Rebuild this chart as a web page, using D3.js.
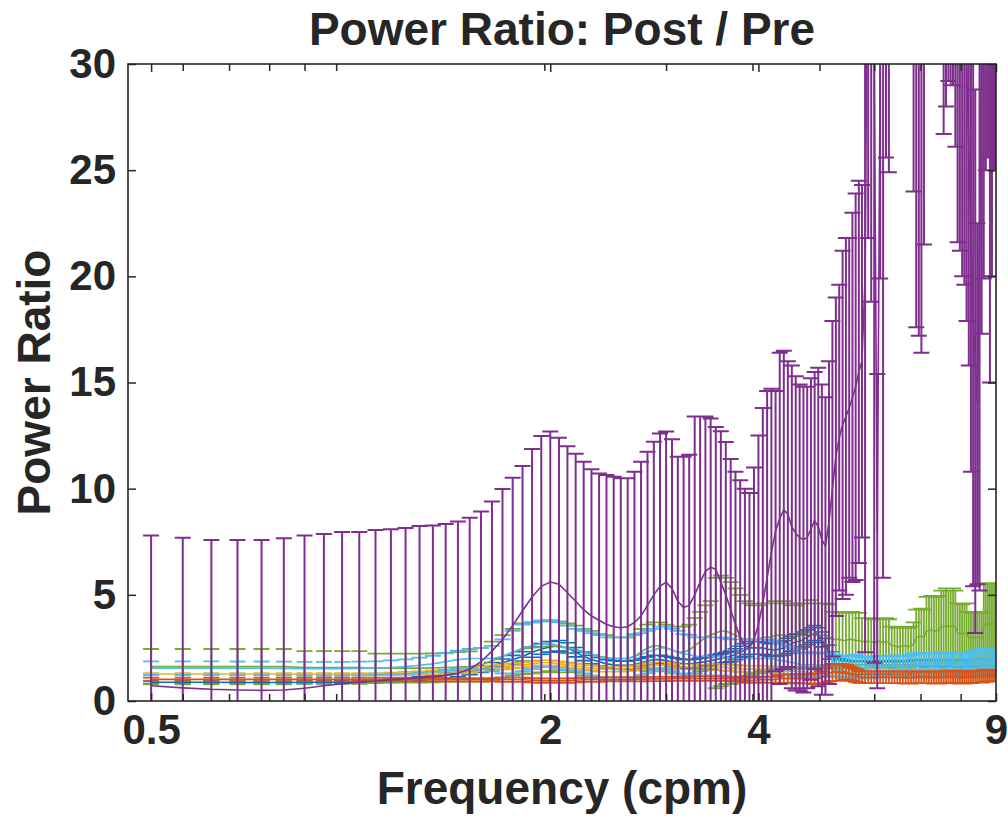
<!DOCTYPE html>
<html><head><meta charset="utf-8">
<script src="https://cdn.jsdelivr.net/npm/d3@7"></script>
<style>
body{margin:0;background:#fff}
svg{display:block}
text{font-family:"Liberation Sans",Arial,Helvetica,sans-serif;font-weight:bold;fill:#262626}
</style>
</head><body>
<svg id="c" width="1008" height="830"></svg>
<script>
// ---------------- data ----------------
const freqs=[0.54,0.6,0.66,0.72,0.78,0.84,0.9,0.96,1.02,1.08,
1.14,1.2,1.26,1.32,1.38,1.44,1.5,1.56,1.62,1.68,
1.74,1.8,1.86,1.92,1.98,2.04,2.1,2.16,2.22,2.28,
2.34,2.4,2.46,2.52,2.58,2.64,2.7,2.76,2.82,2.88,
2.94,3,3.06,3.12,3.18,3.24,3.3,3.36,3.42,3.48,
3.54,3.6,3.66,3.72,3.78,3.84,3.9,3.96,4.02,4.08,
4.14,4.2,4.26,4.32,4.38,4.44,4.5,4.56,4.62,4.68,
4.74,4.8,4.86,4.92,4.98,5.04,5.1,5.16,5.22,5.28,
5.34,5.4,5.46,5.52,5.58,5.64,5.7,5.76,5.82,5.88,
5.94,6,6.06,6.12,6.18,6.24,6.3,6.36,6.42,6.48,
6.54,6.6,6.66,6.72,6.78,6.84,6.9,6.96,7.02,7.08,
7.14,7.2,7.26,7.32,7.38,7.44,7.5,7.56,7.62,7.68,
7.74,7.8,7.86,7.92,7.98,8.04,8.1,8.16,8.22,8.28,
8.34,8.4,8.46,8.52,8.58,8.64,8.7,8.76,8.82,8.88,
8.94,9];

const purpleMean=[0.72,0.62,0.55,0.52,0.5,0.52,0.6,0.72,0.82,0.88,
0.94,1.0,1.05,1.1,1.15,1.22,1.32,1.5,1.85,2.35,
2.9,3.55,4.25,4.9,5.4,5.6,5.5,5.1,4.7,4.3,
4.0,3.8,3.6,3.5,3.45,3.5,3.7,4.0,4.5,5.0,
5.4,5.6,5.3,4.7,4.4,4.5,5.0,5.6,6.1,6.3,
6.2,5.6,5.0,4.3,3.6,3.0,2.6,2.5,2.9,3.6,
4.6,5.8,7.0,8.0,8.6,9.0,8.8,8.2,7.9,7.7,
7.6,7.7,8.1,8.5,8.2,7.6,7.3,8.4,10.0,11.5,
12.4,13.0,13.4,13.8,14.3,14.8,15.5,16.0,20,40,
35,30,8,30,32,40,40,45,50,52,
55,55,52,50,48,40,35,33,32,36,
45,50,52,55,55,52,48,42,44,45,
44,45,40,38,36,33,32,30,26,22,
18,16,14,22,30,34,38,40,36,40,
45,45];
const purpleErr=[7.07,7.07,7.03,7.06,7.08,7.14,7.19,7.15,7.14,7.08,
7.11,7.09,7.1,7.14,7.11,7.12,7.13,7.13,7.07,7.04,
7.09,6.97,6.82,6.97,7.08,7.09,6.9,6.9,6.95,6.97,
6.91,6.92,7.04,7.06,7.04,6.99,7.1,7.27,7.24,7.21,
7.2,7.09,7.03,6.8,7.1,7.1,8.4,7.8,7.3,7.0,
6.7,7.1,7.2,7.1,7.2,7.4,7.4,7.3,8.1,8.9,
9.2,8.8,7.7,6.6,7.8,7.5,7.2,7.6,7.4,7.2,
7.2,7.1,7.1,7.0,7.5,7.3,7.0,7.6,7.9,7.5,
7.2,8.2,8.4,8.0,8.7,9.1,9.0,8.3,17.7,18.2,
16.2,28.2,7.4,10.1,26.2,14.4,15.1,12,10,10,
10,10,10,10,10,16,17.4,15.8,15.6,14.5,
12,10,10,10,10,10,10,15.3,16,15.8,
15,16,13.9,16.4,14.8,13,12.4,12.1,10.2,11.2,
12.6,12.8,8.5,16.8,12.7,14.1,13,14.4,21,20,
20,20];

const greenMean=[1.62,1.62,1.62,1.62,1.62,1.62,1.58,1.58,1.58,1.58,
1.55,1.55,1.55,1.55,1.56,1.58,1.6,1.62,1.7,1.9,
2.1,2.3,2.45,2.5,2.55,2.6,2.55,2.5,2.45,2.3,
2.2,2.1,2.05,2.0,2.0,2.0,2.1,2.3,2.5,2.6,
2.6,2.5,2.4,2.3,2.3,2.4,2.6,2.8,3.0,3.1,
3.2,3.3,3.3,3.2,3.1,3.0,2.9,2.9,2.9,2.9,
3.0,3.0,3.0,3.1,3.1,3.1,3.1,3.0,3.0,3.1,
3.1,3.1,3.15,3.1,3.1,3.1,3.1,3.05,2.9,2.9,
2.9,2.85,2.85,2.9,2.9,2.85,2.85,2.8,2.8,2.8,
2.8,2.75,2.8,2.8,2.75,2.8,2.75,2.6,2.6,2.55,
2.55,2.6,2.6,2.55,2.6,2.7,3.0,3.0,3.05,3.0,
3.3,3.3,3.35,3.3,3.3,3.35,3.5,3.5,3.55,3.5,
3.5,3.55,3.5,3.2,3.2,3.15,3.2,3.2,3.0,3.0,
2.95,3.0,3.0,3.0,2.95,3.6,3.6,3.65,3.6,3.6,
3.65,3.6];
const greenErr=[0.83,0.83,0.83,0.83,0.83,0.83,0.77,0.77,0.77,0.77,
0.68,0.68,0.68,0.68,0.68,0.68,0.7,0.72,0.8,0.9,
1.0,1.1,1.2,1.2,1.2,1.2,1.2,1.15,1.1,1.1,
1.1,1.05,1.05,1.0,1.0,1.0,1.05,1.1,1.1,1.1,
1.1,1.1,1.1,1.2,1.2,1.2,1.3,1.4,1.5,1.6,
2.6,2.6,2.5,2.4,2.2,2.0,1.8,1.7,1.6,1.6,
1.6,1.6,1.6,1.6,1.6,1.6,1.5,1.5,1.5,1.5,
1.5,1.5,1.6,1.5,1.5,1.5,1.5,1.5,1.3,1.3,
1.3,1.3,1.3,1.3,1.3,1.3,1.3,1.1,1.1,1.1,
1.1,1.1,1.1,1.1,1.1,1.1,1.1,0.9,0.9,0.9,
0.9,0.9,0.9,0.9,0.9,1.0,1.3,1.3,1.3,1.3,
1.6,1.6,1.6,1.6,1.6,1.6,1.7,1.7,1.75,1.7,
1.7,1.75,1.7,1.4,1.4,1.4,1.4,1.4,1.2,1.2,
1.2,1.2,1.2,1.2,1.2,1.9,1.9,1.9,1.9,1.9,
1.9,1.9];

const cyanMean=[1.55,1.55,1.55,1.54,1.54,1.53,1.52,1.52,1.52,1.53,
1.55,1.58,1.62,1.68,1.75,1.85,1.95,2.0,2.0,2.0,
2.1,2.3,2.5,2.6,2.7,2.7,2.6,2.5,2.4,2.3,
2.2,2.1,2.0,2.0,2.0,2.0,2.1,2.2,2.3,2.4,
2.5,2.5,2.4,2.3,2.2,2.2,2.1,2.1,2.1,2.1,
2.1,2.1,2.05,2.0,2.0,2.0,2.0,2.0,2.0,2.0,
2.0,2.0,2.0,1.95,1.9,1.9,1.85,1.8,1.8,1.7,
1.7,1.7,1.72,1.7,1.68,1.7,1.72,1.7,1.65,1.65,
1.62,1.6,1.6,1.62,1.65,1.65,1.6,1.55,1.55,1.58,
1.6,1.6,1.62,1.62,1.6,1.6,1.62,1.65,1.65,1.62,
1.62,1.6,1.6,1.62,1.65,1.68,1.7,1.7,1.72,1.7,
1.7,1.72,1.72,1.7,1.7,1.72,1.75,1.75,1.72,1.72,
1.7,1.7,1.72,1.75,1.75,1.72,1.7,1.7,1.72,1.75,
1.78,1.8,1.8,1.8,1.82,1.85,1.85,1.82,1.8,1.8,
1.8,1.8];
const cyanErr=[0.32,0.32,0.32,0.32,0.32,0.32,0.32,0.32,0.32,0.32,
0.32,0.33,0.34,0.36,0.38,0.4,0.42,0.45,0.5,0.6,
0.8,1.0,1.1,1.1,1.1,1.1,1.1,1.05,1.0,1.0,
1.0,1.0,1.0,1.0,1.0,1.0,1.0,1.0,1.0,1.0,
1.0,1.0,1.0,1.0,0.95,0.9,0.9,0.9,0.9,0.9,
0.9,0.9,0.9,0.9,0.9,0.9,0.9,0.9,0.9,0.9,
0.9,0.9,0.85,0.85,0.8,0.8,0.75,0.7,0.65,0.6,
0.55,0.55,0.58,0.56,0.55,0.55,0.56,0.55,0.52,0.52,
0.5,0.5,0.52,0.5,0.5,0.52,0.5,0.5,0.48,0.5,
0.5,0.5,0.48,0.5,0.5,0.5,0.5,0.5,0.5,0.5,
0.5,0.5,0.5,0.52,0.52,0.55,0.55,0.55,0.55,0.55,
0.55,0.55,0.55,0.55,0.55,0.55,0.55,0.55,0.55,0.55,
0.55,0.55,0.55,0.55,0.55,0.55,0.55,0.55,0.55,0.55,
0.55,0.55,0.58,0.6,0.6,0.62,0.62,0.6,0.6,0.6,
0.6,0.6];

const orangeMean=[1.02,1.02,1.02,1.02,1.02,1.02,1.02,1.02,1.02,1.02,
1.02,1.02,1.02,1.01,1.0,1.0,1.0,1.0,1.0,1.0,
1.0,1.0,1.0,0.98,0.96,0.95,0.95,0.96,0.98,1.0,
1.0,1.0,1.02,1.02,1.02,1.02,1.02,1.02,1.04,1.04,
1.04,1.04,1.05,1.05,1.05,1.05,1.05,1.05,1.05,1.05,
1.05,1.05,1.05,1.05,1.05,1.05,1.0,0.98,0.98,1.0,
1.0,1.0,1.0,1.0,1.05,1.05,1.05,1.05,1.05,1.05,
1.05,1.05,1.05,1.05,1.05,1.1,1.2,1.3,1.35,1.35,
1.35,1.35,1.35,1.3,1.25,1.2,1.15,1.12,1.12,1.12,
1.12,1.12,1.12,1.12,1.12,1.12,1.12,1.12,1.12,1.12,
1.12,1.12,1.1,1.1,1.1,1.12,1.12,1.12,1.12,1.12,
1.12,1.12,1.12,1.1,1.1,1.1,1.12,1.12,1.12,1.15,
1.15,1.15,1.15,1.12,1.1,1.1,1.1,1.12,1.12,1.12,
1.15,1.15,1.15,1.15,1.15,1.18,1.18,1.2,1.2,1.2,
1.2,1.2];
const orangeErr=[0.08,0.08,0.08,0.08,0.08,0.08,0.08,0.08,0.08,0.08,
0.08,0.08,0.08,0.08,0.08,0.08,0.08,0.08,0.08,0.08,
0.1,0.1,0.1,0.1,0.1,0.1,0.1,0.1,0.1,0.1,
0.1,0.1,0.1,0.1,0.1,0.1,0.1,0.1,0.1,0.1,
0.1,0.1,0.1,0.1,0.1,0.1,0.1,0.1,0.1,0.1,
0.1,0.1,0.1,0.1,0.1,0.1,0.12,0.12,0.12,0.12,
0.15,0.15,0.15,0.15,0.18,0.18,0.2,0.2,0.22,0.22,
0.22,0.22,0.22,0.25,0.25,0.3,0.35,0.38,0.4,0.4,
0.4,0.38,0.35,0.32,0.3,0.3,0.28,0.28,0.28,0.28,
0.28,0.28,0.28,0.28,0.28,0.28,0.28,0.28,0.28,0.28,
0.28,0.28,0.28,0.28,0.28,0.28,0.28,0.28,0.28,0.28,
0.28,0.28,0.28,0.28,0.28,0.28,0.28,0.28,0.28,0.28,
0.28,0.28,0.28,0.28,0.28,0.28,0.28,0.28,0.28,0.28,
0.28,0.28,0.28,0.28,0.28,0.28,0.28,0.28,0.28,0.28,
0.28,0.28];

const blueMean=[0.88,0.88,0.88,0.87,0.87,0.87,0.88,0.88,0.89,0.9,
0.92,0.95,1.0,1.05,1.12,1.2,1.28,1.38,1.5,1.65,
1.8,1.95,2.1,2.3,2.45,2.55,2.6,2.5,2.3,2.1,
1.95,1.85,1.75,1.7,1.68,1.68,1.72,1.8,1.88,1.95,
1.95,1.9,1.85,1.8,1.75,1.75,1.78,1.82,1.85,1.9,
1.95,2.0,2.05,2.1,2.2,2.3,2.4,2.5,2.5,2.5,
2.5,2.45,2.4,2.4,2.45,2.5,2.6,2.7,2.8,2.8,
2.9,3.0,3.1,3.2,3.1,2.9,2.6,2.3,2.0,1.8,
1.7,1.65,1.6,1.6,1.58,1.55,1.55,1.55,1.58,1.6,
1.6,1.6,1.58,1.55,1.55,1.55,1.58,1.6,1.6,1.6,
1.58,1.55,1.55,1.58,1.6,1.62,1.65,1.65,1.62,1.6,
1.6,1.62,1.65,1.65,1.65,1.62,1.6,1.6,1.62,1.65,
1.65,1.65,1.62,1.6,1.6,1.6,1.62,1.65,1.65,1.62,
1.6,1.6,1.62,1.65,1.68,1.7,1.7,1.7,1.68,1.65,
1.65,1.65];
const blueErr=[0.06,0.06,0.06,0.06,0.06,0.06,0.06,0.06,0.06,0.06,
0.07,0.08,0.09,0.1,0.11,0.12,0.13,0.14,0.15,0.16,
0.18,0.2,0.22,0.24,0.25,0.25,0.25,0.24,0.22,0.2,
0.2,0.2,0.2,0.2,0.2,0.2,0.2,0.2,0.2,0.2,
0.2,0.2,0.2,0.2,0.2,0.2,0.2,0.2,0.2,0.2,
0.22,0.22,0.24,0.25,0.26,0.28,0.3,0.3,0.3,0.3,
0.3,0.3,0.3,0.3,0.32,0.34,0.35,0.35,0.35,0.35,
0.35,0.35,0.35,0.35,0.35,0.35,0.35,0.33,0.32,0.3,
0.3,0.3,0.3,0.3,0.3,0.3,0.3,0.3,0.3,0.3,
0.3,0.3,0.3,0.3,0.3,0.3,0.3,0.3,0.3,0.3,
0.3,0.3,0.3,0.3,0.3,0.3,0.3,0.3,0.3,0.3,
0.3,0.3,0.3,0.3,0.3,0.3,0.3,0.3,0.3,0.3,
0.3,0.3,0.3,0.3,0.3,0.3,0.3,0.3,0.3,0.3,
0.3,0.3,0.3,0.3,0.3,0.3,0.3,0.3,0.3,0.3,
0.3,0.3];

const yellowMean=[1.27,1.27,1.27,1.27,1.27,1.27,1.27,1.27,1.27,1.27,
1.27,1.28,1.3,1.32,1.35,1.38,1.4,1.45,1.5,1.55,
1.6,1.65,1.7,1.75,1.8,1.8,1.75,1.7,1.65,1.6,
1.55,1.5,1.5,1.5,1.5,1.52,1.55,1.6,1.65,1.7,
1.7,1.7,1.65,1.6,1.6,1.6,1.6,1.6,1.6,1.6,
1.6,1.6,1.58,1.55,1.55,1.52,1.5,1.5,1.5,1.5,
1.5,1.5,1.48,1.45,1.45,1.42,1.4,1.4,1.4,1.38,
1.38,1.36,1.35,1.35,1.35,1.35,1.35,1.35,1.35,1.35,
1.35,1.35,1.34,1.34,1.33,1.33,1.32,1.32,1.32,1.32,
1.32,1.32,1.32,1.32,1.32,1.32,1.32,1.32,1.32,1.32,
1.3,1.3,1.3,1.3,1.3,1.3,1.3,1.3,1.3,1.3,
1.3,1.3,1.3,1.3,1.3,1.3,1.3,1.3,1.3,1.3,
1.3,1.3,1.3,1.3,1.3,1.3,1.3,1.3,1.3,1.3,
1.3,1.3,1.3,1.3,1.3,1.3,1.3,1.3,1.3,1.3,
1.3,1.3];
const yellowErr=[0.05,0.05,0.05,0.05,0.05,0.05,0.05,0.05,0.05,0.05,
0.05,0.06,0.07,0.08,0.09,0.1,0.1,0.1,0.11,0.12,
0.12,0.12,0.12,0.12,0.12,0.12,0.12,0.12,0.12,0.12,
0.12,0.12,0.12,0.12,0.12,0.12,0.12,0.12,0.12,0.12,
0.12,0.12,0.12,0.12,0.12,0.12,0.12,0.12,0.12,0.12,
0.15,0.15,0.15,0.15,0.15,0.15,0.15,0.15,0.15,0.15,
0.15,0.15,0.15,0.15,0.15,0.15,0.15,0.15,0.15,0.15,
0.15,0.15,0.15,0.15,0.15,0.15,0.15,0.15,0.15,0.15,
0.2,0.2,0.2,0.2,0.2,0.2,0.2,0.2,0.2,0.2,
0.2,0.2,0.2,0.2,0.2,0.2,0.2,0.2,0.2,0.2,
0.2,0.2,0.2,0.2,0.2,0.2,0.2,0.2,0.2,0.2,
0.2,0.2,0.2,0.2,0.2,0.2,0.2,0.2,0.2,0.2,
0.2,0.2,0.2,0.2,0.2,0.2,0.2,0.2,0.2,0.2,
0.2,0.2,0.2,0.2,0.2,0.2,0.2,0.2,0.2,0.2,
0.2,0.2];

const xTickValues=[0.54,2.04,4.08,9];
const xTickLabels=["0.5","2","4","9"];
const xMinorTicks=[0.6,0.7,0.8,0.9,1,2,3,4,5,6,7,8];
const yTickValues=[0,5,10,15,20,25,30];
const titleText="Power Ratio: Post / Pre";
const xLabelText="Frequency (cpm)";
const yLabelText="Power Ratio";

// ---------------- layout ----------------
const L=128,R=996,T=64,B=701;
const svg=d3.select("#c");
const x=d3.scaleLog().domain([0.5,9]).range([L,R]);
const y=d3.scaleLinear().domain([0,30]).range([B,T]);

const series=[
 {mean:blueMean,err:blueErr,color:"#0072BD",w:1.6},
 {mean:yellowMean,err:yellowErr,color:"#EDB120",w:1.6},
 {mean:greenMean,err:greenErr,color:"#77AC30",w:1.8},
 {mean:cyanMean,err:cyanErr,color:"#4DBEEE",w:1.8},
 {mean:orangeMean,err:orangeErr,color:"#D95319",w:1.8},
 {mean:purpleMean,err:purpleErr,color:"#7E2F8E",w:2}
];

svg.append("defs").append("clipPath").attr("id","clip")
  .append("rect").attr("x",L).attr("y",T).attr("width",R-L).attr("height",B-T);

const plot=svg.append("g").attr("clip-path","url(#clip)");
const cap=8;
series.forEach(s=>{
  const g=plot.append("g");
  const p=d3.path();
  freqs.forEach((f,i)=>{
    const xc=x(f), y0=y(s.mean[i]-s.err[i]), y1=y(s.mean[i]+s.err[i]);
    p.moveTo(xc,y0); p.lineTo(xc,y1);
    p.moveTo(xc-cap,y1); p.lineTo(xc+cap,y1);
    p.moveTo(xc-cap,y0); p.lineTo(xc+cap,y0);
  });
  g.append("path").attr("d",p.toString()).attr("fill","none")
    .attr("stroke",s.color).attr("stroke-width",s.w);
  const line=d3.line().x((d,i)=>x(freqs[i])).y(d=>y(d));
  g.append("path").attr("d",line(s.mean)).attr("fill","none")
    .attr("stroke",s.color).attr("stroke-width",1.6);
});

// ---------------- axes ----------------
const tickLen=8;
function styleAxis(g,fs){
  g.attr("font-size",fs).attr("font-family","'Liberation Sans',Arial,sans-serif").attr("font-weight","bold");
  g.select(".domain").remove();
  g.selectAll(".tick line").attr("stroke","#262626").attr("stroke-width",1.5);
  g.selectAll(".tick text").attr("fill","#262626");
}
const fmt=(d)=>xTickLabels[xTickValues.indexOf(d)];
svg.append("g").attr("transform",`translate(0,${B})`)
  .call(d3.axisBottom(x).tickValues(xTickValues).tickFormat(fmt).tickSizeInner(-tickLen).tickSizeOuter(0).tickPadding(13))
  .call(g=>styleAxis(g,42));
svg.append("g").attr("transform",`translate(0,${B})`)
  .call(d3.axisBottom(x).tickValues(xMinorTicks).tickFormat("").tickSizeInner(-tickLen+1).tickSizeOuter(0))
  .call(g=>styleAxis(g,10));
svg.append("g").attr("transform",`translate(0,${T})`)
  .call(d3.axisTop(x).tickValues(xTickValues).tickFormat("").tickSizeInner(-tickLen).tickSizeOuter(0))
  .call(g=>styleAxis(g,10));
svg.append("g").attr("transform",`translate(0,${T})`)
  .call(d3.axisTop(x).tickValues(xMinorTicks).tickFormat("").tickSizeInner(-tickLen+1).tickSizeOuter(0))
  .call(g=>styleAxis(g,10));
svg.append("g").attr("transform",`translate(${L},0)`)
  .call(d3.axisLeft(y).tickValues(yTickValues).tickFormat(d3.format("d")).tickSizeInner(-tickLen).tickSizeOuter(0).tickPadding(12))
  .call(g=>styleAxis(g,42));
svg.append("g").attr("transform",`translate(${R},0)`)
  .call(d3.axisRight(y).tickValues(yTickValues).tickFormat("").tickSizeInner(-tickLen).tickSizeOuter(0))
  .call(g=>styleAxis(g,10));

svg.append("rect").attr("x",L).attr("y",T).attr("width",R-L).attr("height",B-T)
  .attr("fill","none").attr("stroke","#262626").attr("stroke-width",1.6);

// ---------------- labels ----------------
svg.append("text").attr("x",(L+R)/2).attr("y",45).attr("text-anchor","middle")
  .attr("font-size",46).text(titleText);
svg.append("text").attr("x",(L+R)/2).attr("y",804).attr("text-anchor","middle")
  .attr("font-size",46).text(xLabelText);
svg.append("text").attr("transform",`translate(50,${(T+B)/2}) rotate(-90)`).attr("text-anchor","middle")
  .attr("font-size",46).text(yLabelText);
</script>
</body></html>
